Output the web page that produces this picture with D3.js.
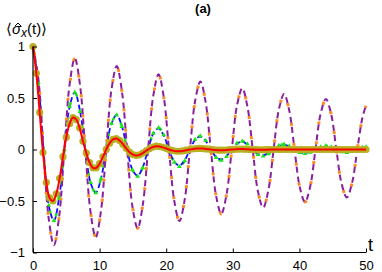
<!DOCTYPE html>
<html>
<head>
<meta charset="utf-8">
<script src="https://cdn.jsdelivr.net/npm/d3@7"></script>
<style>
body{margin:0;background:#fff;}
text{font-family:"Liberation Sans",Arial,sans-serif;}
</style>
</head>
<body>
<svg id="chart" width="382" height="272"></svg>
<script>
// quarter-period sample times shared by the oscillating curves
var tq = [0,0.79,1.57,2.36,3.14,3.93,4.71,5.5,6.28,7.07,7.85,8.64,9.42,10.21,10.99,11.78,
  12.57,13.35,14.14,14.92,15.71,16.49,17.28,18.06,18.85,19.63,20.42,21.21,21.99,22.78,23.56,24.35,
  25.13,25.92,26.7,27.49,28.27,29.06,29.85,30.63,31.42,32.2,32.99,33.77,34.56,35.34,36.13,36.91,
  37.7,38.48,39.27,40.06,40.84,41.63,42.41,43.2,43.98,44.77,45.55,46.34,47.12,47.91,48.69,49.48,50]

var purpleVals = [1,0.695,0,-0.670, -0.93,-0.650,0,0.634, 0.885,0.620,0,-0.607, -0.85,-0.594,0,0.580,
  0.81,0.565,0,-0.549, -0.765,-0.535,0,0.522, 0.73,0.510,0,-0.498, -0.695,-0.485,0,0.473,
  0.66,0.460,0,-0.448, -0.625,-0.437,0,0.426, 0.595,0.415,0,-0.405, -0.565,-0.395,0,0.386,
  0.54,0.376,0,-0.366, -0.51,-0.357,0,0.350, 0.49,0.342,0,-0.333, -0.465,-0.324,0,0.315, 0.425]

var blueVals = [1,0.652,0,-0.543, -0.69,-0.464,0,0.416, 0.555,0.369,0,-0.321, -0.42,-0.282,0,0.252,
  0.335,0.223,0,-0.194, -0.255,-0.171,0,0.154, 0.205,0.136,0,-0.118, -0.155,-0.104,0,0.094,
  0.125,0.083,0,-0.072, -0.095,-0.064,0,0.057, 0.075,0.049,0,-0.042, -0.055,-0.037,0,0.034,
  0.045,0.030,0,-0.025, -0.033,-0.022,0,0.020, 0.027,0.018,0,-0.016, -0.02,-0.013,0,0.012, 0.015]

var greenVals = [1,0.652,0,-0.543, -0.69,-0.464,0,0.416, 0.555,0.369,0,-0.321, -0.42,-0.282,0,0.252,
  0.335,0.223,0,-0.197, -0.26,-0.175,0,0.157, 0.21,0.141,0,-0.125, -0.165,-0.110,0,0.098,
  0.13,0.088,0,-0.078, -0.105,-0.070,0,0.061, 0.08,0.054,0,-0.049, -0.065,-0.043,0,0.038,
  0.05,0.034,0,-0.030, -0.04,-0.027,0,0.025, 0.035,0.024,0,-0.022, -0.03,-0.020,0,0.018, 0.024]

// red curve, sampled every 0.5 (also where the olive circles sit)
var tr = d3.range(0, 50.25, 0.5)
var redVals = [1.00,0.74,0.36,-0.03,-0.32,-0.47,-0.50,-0.43,-0.28,-0.07,0.12,0.25,0.31,0.29,0.21,0.08,
  -0.034,-0.128,-0.178,-0.178,-0.138,-0.071,0.001,0.061,0.098,0.107,0.088,0.052,0.011,-0.026,-0.049,-0.058,
  -0.052,-0.034,-0.012,0.009,0.024,0.032,0.029,0.021,0.010,-0.002,-0.011,-0.017,-0.017,-0.014,-0.007,-0.001,
  0.005,0.009,0.010,0.009,0.006,0.002,-0.002,-0.005,-0.007,-0.007,-0.005,-0.002,0.001,0.003,0.004,0.004,
  0.003,0.001,-0.001,-0.002,-0.003,-0.003,-0.002,-0.001,
  0,0,0,0,0,0,0,0,0,0,0,0,0,0,0,0,0,0,0,0,0,0,0,0,0,0,0,0,0]

var xTicks = [0,10,20,30,40,50]
var yTicks = [-1,-0.5,0,0.5,1]

var zip = function(ts, vs){
    return ts.map(function(t,i){ return {t:t, v:vs[i]} })
}

var initGraph = function()
{
    var svg = d3.select("#chart")
    var xScale = d3.scaleLinear().domain([0,50]).range([33,366])
    var yScale = d3.scaleLinear().domain([-1,1]).range([252.5,46.5])

    var line = d3.line()
        .x(function(d){ return xScale(d.t) })
        .y(function(d){ return yScale(d.v) })
        .curve(d3.curveCatmullRom.alpha(0.5))

    var plot = svg.append("g")

    var green = zip(tq, greenVals)
    var blue = zip(tq, blueVals)
    var purple = zip(tq, purpleVals)
    var red = zip(tr, redVals)

    // green bits in the blue gaps, plus triangles
    plot.append("path").datum(green)
        .attr("d", line).attr("fill","none")
        .attr("stroke","#19e619").attr("stroke-width",2.6)
        .attr("stroke-dasharray","3,13").attr("stroke-dashoffset",-5)
    plot.append("path").datum(blue)
        .attr("d", line).attr("fill","none")
        .attr("stroke","#1010ff").attr("stroke-width",1.8)
        .attr("stroke-dasharray","5,3")
    plot.selectAll(".tri").data(green).enter()
        .append("path").attr("class","tri")
        .attr("d", d3.symbol().type(d3.symbolTriangle).size(10))
        .attr("transform", function(d){ return "translate("+xScale(d.t)+","+yScale(d.v)+")" })
        .attr("fill","#19e619")

    // purple dashes with orange squares in some gaps
    plot.append("path").datum(purple)
        .attr("d", line).attr("fill","none")
        .attr("stroke","#ff8a1e").attr("stroke-width",3)
        .attr("stroke-dasharray","3,17").attr("stroke-dashoffset",-6)
    plot.append("path").datum(purple)
        .attr("d", line).attr("fill","none")
        .attr("stroke","#8a1f9e").attr("stroke-width",2)
        .attr("stroke-dasharray","6,4")

    // olive circles under the red line
    plot.selectAll(".dot").data(red).enter()
        .append("circle").attr("class","dot")
        .attr("cx", function(d){ return xScale(d.t) })
        .attr("cy", function(d){ return yScale(d.v) })
        .attr("r",3.6)
        .attr("fill","#b8b022")
    plot.append("path").datum(red)
        .attr("d", line).attr("fill","none")
        .attr("stroke","#ff0000").attr("stroke-width",2)

    drawAxes(svg, xScale, yScale)
    drawLabels(svg)
}

var drawAxes = function(svg, xScale, yScale)
{
    var fmt = function(d){ return d3.format("")(d).replace("-","\u2212") }
    var xAxis = d3.axisBottom(xScale).tickValues(xTicks).tickSize(-4).tickPadding(8).tickFormat(fmt)
    var yAxis = d3.axisLeft(yScale).tickValues(yTicks).tickSize(-4).tickPadding(8).tickFormat(fmt)

    var gx = svg.append("g")
        .attr("transform","translate(0,"+yScale(-1)+")")
        .call(xAxis)
    var gy = svg.append("g")
        .attr("transform","translate("+xScale(0)+",0)")
        .call(yAxis)

    svg.selectAll(".domain").attr("stroke","#000").attr("stroke-width",1.2)
    svg.selectAll(".tick line").attr("stroke","#000")
    svg.selectAll(".tick text")
        .attr("font-size",13)
        .attr("font-family","Liberation Sans, Arial, sans-serif")
        .attr("fill","#000")
    gx.select(".domain").attr("d","M"+xScale(0)+",0H"+xScale(50))
    gy.select(".domain").attr("d","M0,"+yScale(-1)+"V"+yScale(1))
}

var drawLabels = function(svg)
{
    svg.append("text")
        .text("(a)")
        .attr("x",203).attr("y",13)
        .attr("text-anchor","middle")
        .attr("font-size",13).attr("font-weight","bold")

    svg.append("text")
        .text("t")
        .attr("x",368).attr("y",251)
        .attr("font-size",18)

    var yl = svg.append("text")
        .attr("x",6).attr("y",34)
        .attr("font-size",15)
    yl.append("tspan").text("\u27E8")
    yl.append("tspan").text("\u03C3").attr("font-style","italic")
    yl.append("tspan").text("x").attr("font-style","italic").attr("font-size",12).attr("dy",3)
    yl.append("tspan").text("(t)\u27E9").attr("dy",-3)

    // hat over sigma, centred on the glyph
    var box = yl.node().getExtentOfChar(1)
    var hx = box.x + box.width/2 + 1.5
    svg.append("path")
        .attr("d","M"+(hx-3)+",26L"+hx+",23L"+(hx+3)+",26")
        .attr("fill","none")
        .attr("stroke","#000")
        .attr("stroke-width",1)
}

initGraph()
</script>
</body>
</html>
